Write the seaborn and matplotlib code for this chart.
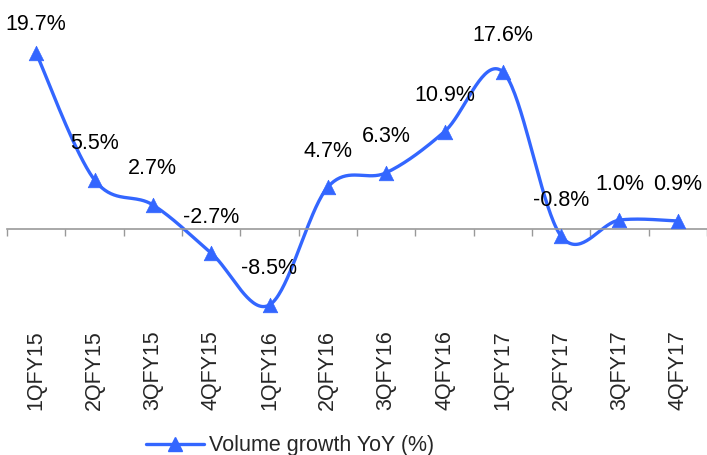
import numpy as np
import pandas as pd
import matplotlib
matplotlib.use("Agg")
import matplotlib.pyplot as plt
from matplotlib.lines import Line2D
import seaborn as sns

quarters = ["1QFY15", "2QFY15", "3QFY15", "4QFY15", "1QFY16", "2QFY16",
            "3QFY16", "4QFY16", "1QFY17", "2QFY17", "3QFY17", "4QFY17"]
growth = [19.7, 5.5, 2.7, -2.7, -8.5, 4.7, 6.3, 10.9, 17.6, -0.8, 1.0, 0.9]
labels = ["19.7%", "5.5%", "2.7%", "-2.7%", "-8.5%", "4.7%", "6.3%",
          "10.9%", "17.6%", "-0.8%", "1.0%", "0.9%"]
series_name = "Volume growth YoY (%)"

sns.set_theme(style="white")
plt.rcParams["font.family"] = ["Liberation Sans", "DejaVu Sans"]

BLUE = "#3366FF"
FS = 15.5

# Excel-like smoothed curve (Catmull-Rom Bezier) computed from the data
x = np.arange(len(growth), dtype=float)
y = np.array(growth, dtype=float)
pts = np.column_stack([x, y])
sx, sy = [], []
n = len(pts)
for i in range(n - 1):
    p0 = pts[i - 1] if i > 0 else pts[i]
    p1 = pts[i]
    p2 = pts[i + 1]
    p3 = pts[i + 2] if i + 2 < n else pts[i + 1]
    b1 = p1 + (p2 - p0) / 6.0
    b2 = p2 - (p3 - p1) / 6.0
    t = np.linspace(0, 1, 40)[:, None]
    seg = ((1 - t) ** 3) * p1 + 3 * ((1 - t) ** 2) * t * b1 + 3 * (1 - t) * t ** 2 * b2 + t ** 3 * p2
    if i > 0:
        seg = seg[1:]
    sx.extend(seg[:, 0])
    sy.extend(seg[:, 1])
curve = pd.DataFrame({"x": sx, "y": sy})
df = pd.DataFrame({"x": x, "y": y, "q": quarters})

fig = plt.figure(figsize=(7.07, 4.55), dpi=100)
W, H = 707, 455
ax_left, ax_right = 7 / W, 1.0
ax_top_px, ax_bot_px = 5, 315
ax = fig.add_axes([ax_left, 1 - ax_bot_px / H, ax_right - ax_left, (ax_bot_px - ax_top_px) / H])

sns.lineplot(data=curve, x="x", y="y", sort=False, estimator=None, color=BLUE,
             linewidth=2.4, ax=ax, legend=False)
sns.scatterplot(data=df, x="x", y="y", marker="^", s=110, color=BLUE,
                edgecolor=BLUE, linewidth=0.5, ax=ax, legend=False, zorder=5)

px_per_unit = 8.93
zero_px = 229
ax.set_ylim(-(ax_bot_px - zero_px) / px_per_unit, (zero_px - ax_top_px) / px_per_unit)
ax.set_xlim(-0.5, len(quarters) - 0.5)

# data labels ~36 px above each point, kept inside the figure
fig.canvas.draw()
for xi, yi, lab in zip(x, y, labels):
    py = ax.transData.transform((xi, yi))[1]          # pixels from bottom
    off_px = min(36.0, (H - 24) - py)
    ax.annotate(lab, (xi, yi), xytext=(0, off_px), textcoords="offset pixels",
                ha="center", va="center", fontsize=FS, color="black")

ax.set_yticks([])
ax.set_ylabel("")
ax.set_xlabel("")

for s in ["top", "right", "left"]:
    ax.spines[s].set_visible(False)
ax.spines["bottom"].set_position(("data", 0))
ax.spines["bottom"].set_color("#999999")
ax.spines["bottom"].set_linewidth(1.2)
ax.set_xticks([])
ax.set_xticks(np.arange(-0.5, len(quarters) + 0.5, 1.0), minor=True)
ax.tick_params(axis="x", which="minor", direction="out", length=5, width=1.0,
               color="#999999", bottom=True, labelbottom=False)

sec = ax.secondary_xaxis(0)
sec.set_xticks(x)
sec.set_xticklabels(quarters, rotation=90, fontsize=FS, va="top", ha="center")
sec.tick_params(axis="x", length=0, pad=11)
sec.spines["bottom"].set_visible(False)

handle = Line2D([0], [0], color=BLUE, linewidth=2.4, marker="^", markersize=10,
                markerfacecolor=BLUE, markeredgecolor=BLUE)
fig.legend([handle], [series_name], loc="center", bbox_to_anchor=(0.41, 0.02),
           frameon=False, fontsize=FS, handlelength=2.7, handletextpad=0.25,
           borderpad=0, borderaxespad=0)

fig.savefig("out.png", dpi=100)
